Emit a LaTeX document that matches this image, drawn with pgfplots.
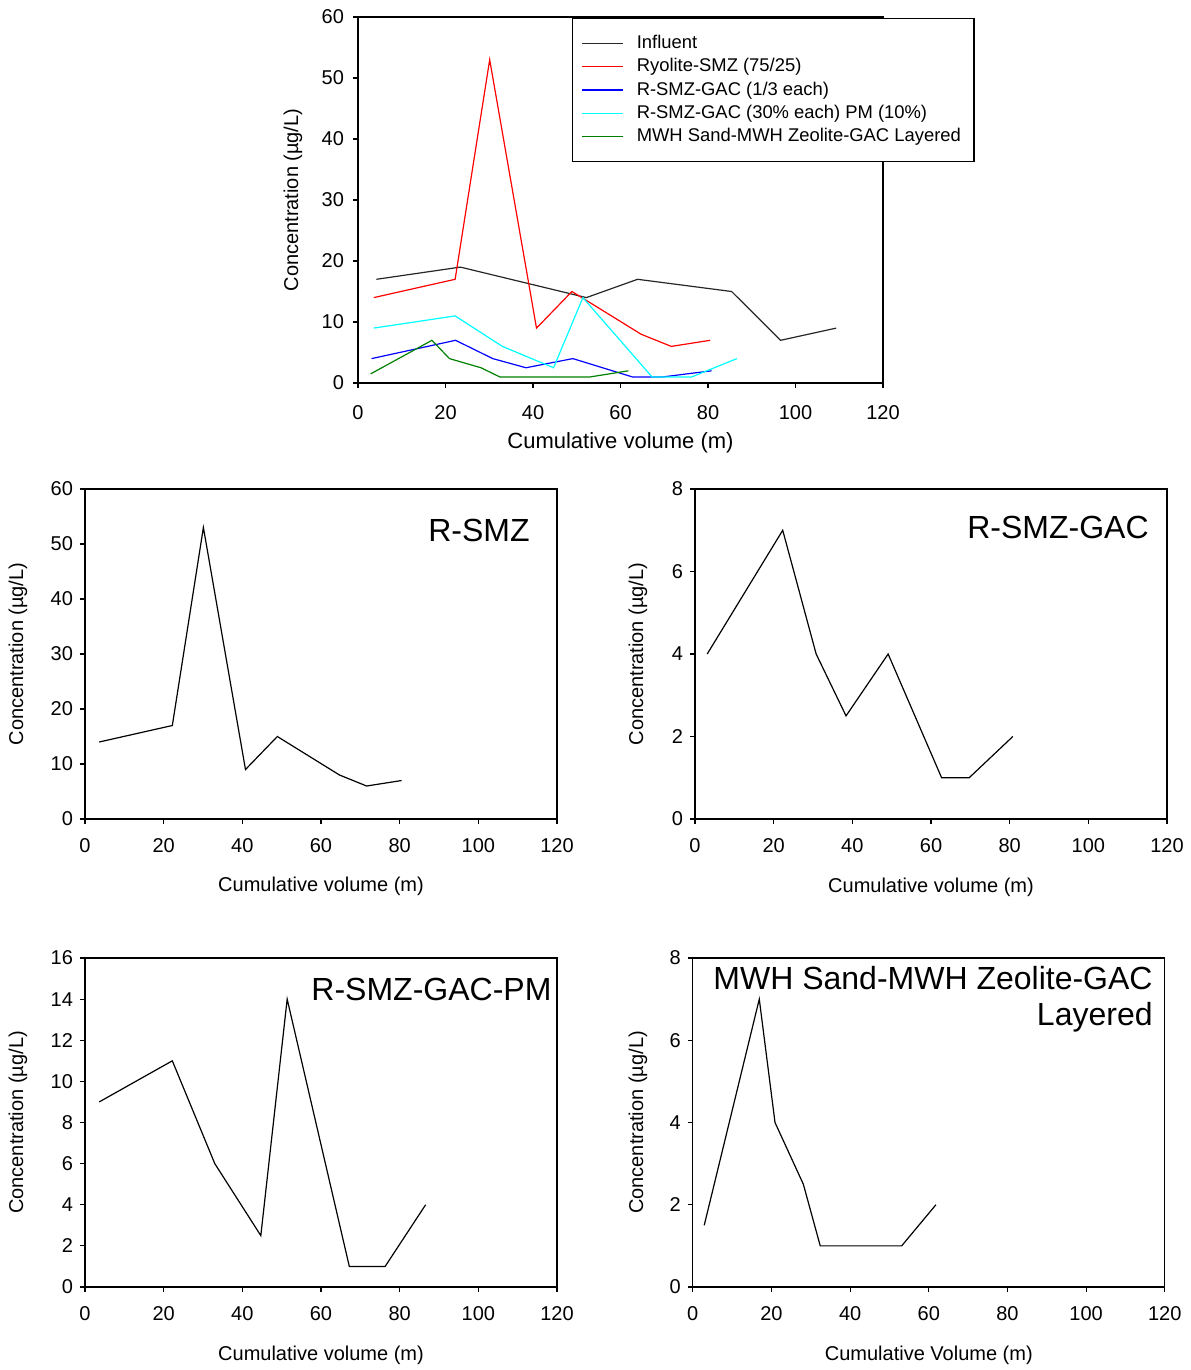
\documentclass[border=0pt]{standalone}
\usepackage{fontspec}
\setmainfont{Liberation Sans}
\usepackage{pgfplots}
\pgfplotsset{compat=1.18}
\definecolor{mgreen}{RGB}{0,128,0}
\definecolor{mred}{RGB}{255,0,0}
\definecolor{mblue}{RGB}{0,0,255}
\definecolor{mcyan}{RGB}{0,255,255}
\tikzset{ttl/.style={font=\fontsize{16}{18}\selectfont, anchor=east, align=right, inner sep=0pt}}
\pgfplotsset{
  base/.style={
    scale only axis,
    axis line style={line width=0.6pt},
    every tick/.style={black, line width=0.6pt},
    tick align=outside, major tick length=2.5pt,
    xtick pos=left, ytick pos=left,
    /pgf/number format/assume math mode=true,
    tick label style={font=\fontsize{10}{12}\selectfont},
    label style={font=\fontsize{10}{12}\selectfont},
    xmin=0, xmax=120, xtick={0,20,...,120}, ymin=0,
    ylabel={Concentration (µg/L)},
  },
  panel/.style={base, width=236pt, xticklabel style={yshift=-3.5pt}},
}
\begin{document}
\begin{tikzpicture}
\useasboundingbox (0,0) rectangle (595pt,-685pt);

% ---------------- top combined chart ----------------
\begin{axis}[base, at={(179pt,-191.5pt)}, anchor=south west,
  width=262.5pt, height=183pt, ymax=60, ytick={0,10,...,60},
  xticklabel style={yshift=-5pt},
  yticklabel style={xshift=-1pt},
  xlabel={Cumulative volume (m)},
  xlabel style={font=\fontsize{11}{13}\selectfont, at={(axis description cs:0.5,-0.164)}, anchor=center},
  ylabel style={at={(axis description cs:-0.124,0.5)}, anchor=center},
  legend cell align=left,
  legend style={at={(rel axis cs:0.4076,0.997)}, anchor=north west, draw=black, line width=0.6pt,
    font=\fontsize{9.2}{11}\selectfont, inner xsep=4.5pt, inner ysep=6.3pt, row sep=-0.55pt,
    /tikz/every odd column/.append style={column sep=4.5pt}},
  legend image code/.code={\draw[#1, line width=0.6pt] (2pt,0pt) -- (22.5pt,0pt);},
]
\addplot[black!85, line width=0.6pt] coordinates {(4.2,17) (23.4,19) (52.2,14) (63.9,17) (85.4,15) (96.6,7) (109.3,9)};
\addlegendentry{Influent}
\addplot[mred, line width=0.6pt] coordinates {(3.6,14) (22.2,17) (30.1,53) (40.8,9) (48.9,15) (64.7,8) (71.6,6) (80.5,7)};
\addlegendentry{Ryolite-SMZ (75/25)}
\addplot[mblue, line width=0.6pt] coordinates {(3.1,4) (22.3,7) (30.8,4) (38.4,2.5) (49.1,4) (62.7,1) (69.7,1) (80.8,2)};
\addlegendentry{R-SMZ-GAC (1/3 each)}
\addplot[mcyan, line width=0.6pt] coordinates {(3.6,9) (22.2,11) (33.0,6) (44.7,2.5) (51.4,14) (67.2,1) (76.3,1) (86.6,4)};
\addlegendentry{R-SMZ-GAC (30\% each) PM (10\%)}
\addplot[mgreen, line width=0.6pt] coordinates {(2.9,1.5) (16.9,7) (20.9,4) (28.1,2.5) (32.4,1) (53.1,1) (61.8,2)};
\addlegendentry{MWH Sand-MWH Zeolite-GAC Layered}
\end{axis}

% ---------------- R-SMZ ----------------
\begin{axis}[panel, at={(42.5pt,-409.5pt)}, anchor=south west, height=165pt,
  ymax=60, ytick={0,10,...,60},
  xlabel={Cumulative volume (m)},
  xlabel style={at={(axis description cs:0.5,-0.203)}, anchor=center},
  ylabel style={at={(axis description cs:-0.142,0.5)}, anchor=center},
]
\addplot[black, line width=0.6pt] coordinates {(3.6,14) (22.2,17) (30.1,53) (40.8,9) (48.9,15) (64.7,8) (71.6,6) (80.5,7)};
\node[ttl] at (rel axis cs:0.943,0.873) {R-SMZ};
\end{axis}

% ---------------- R-SMZ-GAC ----------------
\begin{axis}[panel, at={(347.5pt,-409.5pt)}, anchor=south west, height=165pt,
  ymax=8, ytick={0,2,...,8},
  xlabel={Cumulative volume (m)},
  xlabel style={at={(axis description cs:0.5,-0.206)}, anchor=center},
  ylabel style={at={(axis description cs:-0.121,0.5)}, anchor=center},
]
\addplot[black, line width=0.6pt] coordinates {(3.1,4) (22.3,7) (30.8,4) (38.4,2.5) (49.1,4) (62.7,1) (69.7,1) (80.8,2)};
\node[ttl] at (rel axis cs:0.962,0.882) {R-SMZ-GAC};
\end{axis}

% ---------------- R-SMZ-GAC-PM ----------------
\begin{axis}[panel, at={(42.5pt,-643.5pt)}, anchor=south west, height=164.5pt,
  ymax=16, ytick={0,2,...,16},
  xlabel={Cumulative volume (m)},
  xlabel style={at={(axis description cs:0.5,-0.207)}, anchor=center},
  ylabel style={at={(axis description cs:-0.142,0.5)}, anchor=center},
]
\addplot[black, line width=0.6pt] coordinates {(3.6,9) (22.2,11) (33.0,6) (44.7,2.5) (51.4,14) (67.2,1) (76.3,1) (86.6,4)};
\node[ttl] at (rel axis cs:0.989,0.903) {R-SMZ-GAC-PM};
\end{axis}

% ---------------- MWH layered ----------------
\begin{axis}[panel, at={(346.4pt,-643.5pt)}, anchor=south west, height=164.5pt,
  ymax=8, ytick={0,2,...,8},
  xlabel={Cumulative Volume (m)},
  xlabel style={at={(axis description cs:0.5,-0.207)}, anchor=center},
  ylabel style={at={(axis description cs:-0.116,0.5)}, anchor=center},
]
\addplot[black, line width=0.6pt] coordinates {(2.9,1.5) (16.9,7) (20.9,4) (28.1,2.5) (32.4,1) (53.1,1) (61.8,2)};
\node[ttl] at (rel axis cs:0.975,0.875) {MWH Sand-MWH Zeolite-GAC\\Layered};
\end{axis}
\end{tikzpicture}
\end{document}
